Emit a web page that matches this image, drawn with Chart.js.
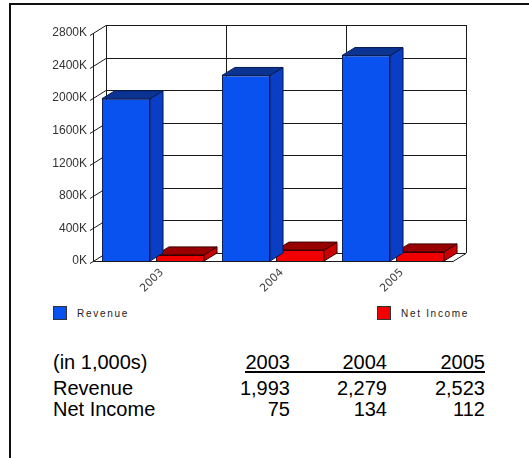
<!DOCTYPE html>
<html>
<head>
<meta charset="utf-8">
<script src="https://cdn.jsdelivr.net/npm/chart.js@4.4.1/dist/chart.umd.min.js"></script>
<style>
  body { margin: 0; background: #fff; font-family: "Liberation Sans", Arial, sans-serif; }
  .frame { position: absolute; left: 9px; top: 3px; width: 540px; height: 470px;
           border-top: 2px solid #111; border-left: 2px solid #111; }
  #chartBox { position: absolute; left: 0; top: 0; width: 529px; height: 300px; }
  .leg { position: absolute; top: 306px; font-size: 10px; letter-spacing: 1.7px; color: #222; line-height: 14px; }
  .leg span { display: inline-block; width: 12px; height: 12px; vertical-align: -3px; margin-right: 10px; border: 1px solid #333; }
  .t { position: absolute; font-size: 20px; line-height: 20px; color: #000; white-space: nowrap; }
  .r { text-align: right; width: 80px; }
  .rule { position: absolute; left: 245px; top: 371px; width: 240px; height: 2px; background: #000; }
</style>
</head>
<body>
<div class="frame"></div>
<div id="chartBox"><canvas id="finChart" width="529" height="300"></canvas></div>

<div class="leg" style="left:53px"><span style="background:#0a52f0"></span>Revenue</div>
<div class="leg" style="left:377px"><span style="background:#f00000"></span>Net Income</div>

<div id="table"></div>
<div class="rule"></div>

<script>
  // values in thousands
  const years = ['2003', '2004', '2005'];
  const revenue = [1993, 2279, 2523];
  const netIncome = [75, 134, 112];
  const yTicksMax = 2800;
  const yTicksStep = 400;

  const DX = 13, DY = -8; // depth of the 3d look
  const faceColors = [
    { front: '#0a52f0', side: '#0a3ec4', top: '#0a3392', line: '#071a50' },
    { front: '#f00000', side: '#c80000', top: '#980000', line: '#3a0000' }
  ];

  // table under the chart
  function fmt(v) { return v.toLocaleString('en-US'); }
  function buildTable() {
    const box = document.getElementById('table');
    const colRight = [290, 387, 485];
    const rows = [
      { top: 352, label: '(in 1,000s)', vals: years },
      { top: 378, label: 'Revenue', vals: revenue.map(fmt) },
      { top: 399, label: 'Net Income', vals: netIncome.map(fmt) }
    ];
    rows.forEach(row => {
      const l = document.createElement('div');
      l.className = 't';
      l.style.left = '53px';
      l.style.top = row.top + 'px';
      l.textContent = row.label;
      box.appendChild(l);
      row.vals.forEach((v, i) => {
        const c = document.createElement('div');
        c.className = 't r';
        c.style.left = (colRight[i] - 80) + 'px';
        c.style.top = row.top + 'px';
        c.textContent = v;
        box.appendChild(c);
      });
    });
  }

  const depthPlugin = {
    id: 'depth',
    beforeDatasetsDraw(chart) {
      const { ctx, chartArea: a, scales: { x, y } } = chart;
      ctx.save();
      ctx.strokeStyle = '#1a1a1a';
      ctx.lineWidth = 1;
      ctx.beginPath();
      y.ticks.forEach(t => {
        const py = Math.round(y.getPixelForValue(t.value)) + 0.5;
        ctx.moveTo(a.left + DX, py + DY);
        ctx.lineTo(a.right + DX, py + DY);
        ctx.moveTo(a.left - 3, py + 2);
        ctx.lineTo(a.left + DX, py + DY);
      });
      for (let i = 0; i <= years.length; i++) {
        const px = Math.round(x.getPixelForValue(i - 0.5)) + 0.5;
        ctx.moveTo(px + DX, a.top + DY);
        ctx.lineTo(px + DX, a.bottom + DY);
      }
      const l = Math.round(a.left) + 0.5, b = Math.round(a.bottom) + 0.5;
      ctx.moveTo(l, a.top);
      ctx.lineTo(l, b);
      ctx.lineTo(a.right, b);
      ctx.lineTo(a.right + DX, b + DY);
      ctx.stroke();
      ctx.restore();
    },
    afterDatasetDraw(chart, args) {
      const { ctx } = chart;
      const c = faceColors[args.index];
      ctx.save();
      ctx.lineWidth = 1;
      ctx.strokeStyle = c.line;
      args.meta.data.forEach(bar => {
        const { x, y, base, width } = bar.getProps(['x', 'y', 'base', 'width'], true);
        const x1 = x - width / 2, x2 = x + width / 2;
        // side
        ctx.beginPath();
        ctx.moveTo(x2, y);
        ctx.lineTo(x2 + DX, y + DY);
        ctx.lineTo(x2 + DX, base + DY);
        ctx.lineTo(x2, base);
        ctx.closePath();
        ctx.fillStyle = c.side;
        ctx.fill();
        ctx.stroke();
        // top
        ctx.beginPath();
        ctx.moveTo(x1, y);
        ctx.lineTo(x1 + DX, y + DY);
        ctx.lineTo(x2 + DX, y + DY);
        ctx.lineTo(x2, y);
        ctx.closePath();
        ctx.fillStyle = c.top;
        ctx.fill();
        ctx.stroke();
      });
      ctx.restore();
    }
  };

  const tickFont = { family: '"Liberation Sans", Arial, sans-serif', size: 12 };

  new Chart(document.getElementById('finChart'), {
    type: 'bar',
    data: {
      labels: years,
      datasets: [{
        label: 'Revenue',
        data: revenue,
        backgroundColor: faceColors[0].front,
        borderColor: faceColors[0].line,
        borderWidth: 1
      }, {
        label: 'Net Income',
        data: netIncome,
        backgroundColor: faceColors[1].front,
        borderColor: faceColors[1].line,
        borderWidth: 1
      }]
    },
    options: {
      responsive: false,
      animation: false,
      categoryPercentage: 0.9,
      barPercentage: 0.89,
      layout: { padding: { left: 0, right: 76, top: 33, bottom: 0 } },
      plugins: {
        legend: { display: false },
        tooltip: { enabled: false }
      },
      scales: {
        y: {
          min: 0,
          max: yTicksMax,
          afterFit: s => { s.width = 93; },
          grid: { display: false, drawTicks: false },
          border: { display: false },
          ticks: {
            stepSize: yTicksStep,
            padding: 6,
            color: '#333',
            font: tickFont,
            callback: v => v + 'K'
          }
        },
        x: {
          afterFit: s => { s.height = 39; },
          grid: { display: false, drawTicks: false },
          border: { display: false },
          ticks: {
            minRotation: 45,
            maxRotation: 45,
            labelOffset: 9,
            padding: 5,
            color: '#444',
            font: { family: '"DejaVu Sans", sans-serif', size: 11 }
          }
        }
      }
    },
    plugins: [depthPlugin]
  });

  buildTable();
</script>
</body>
</html>
